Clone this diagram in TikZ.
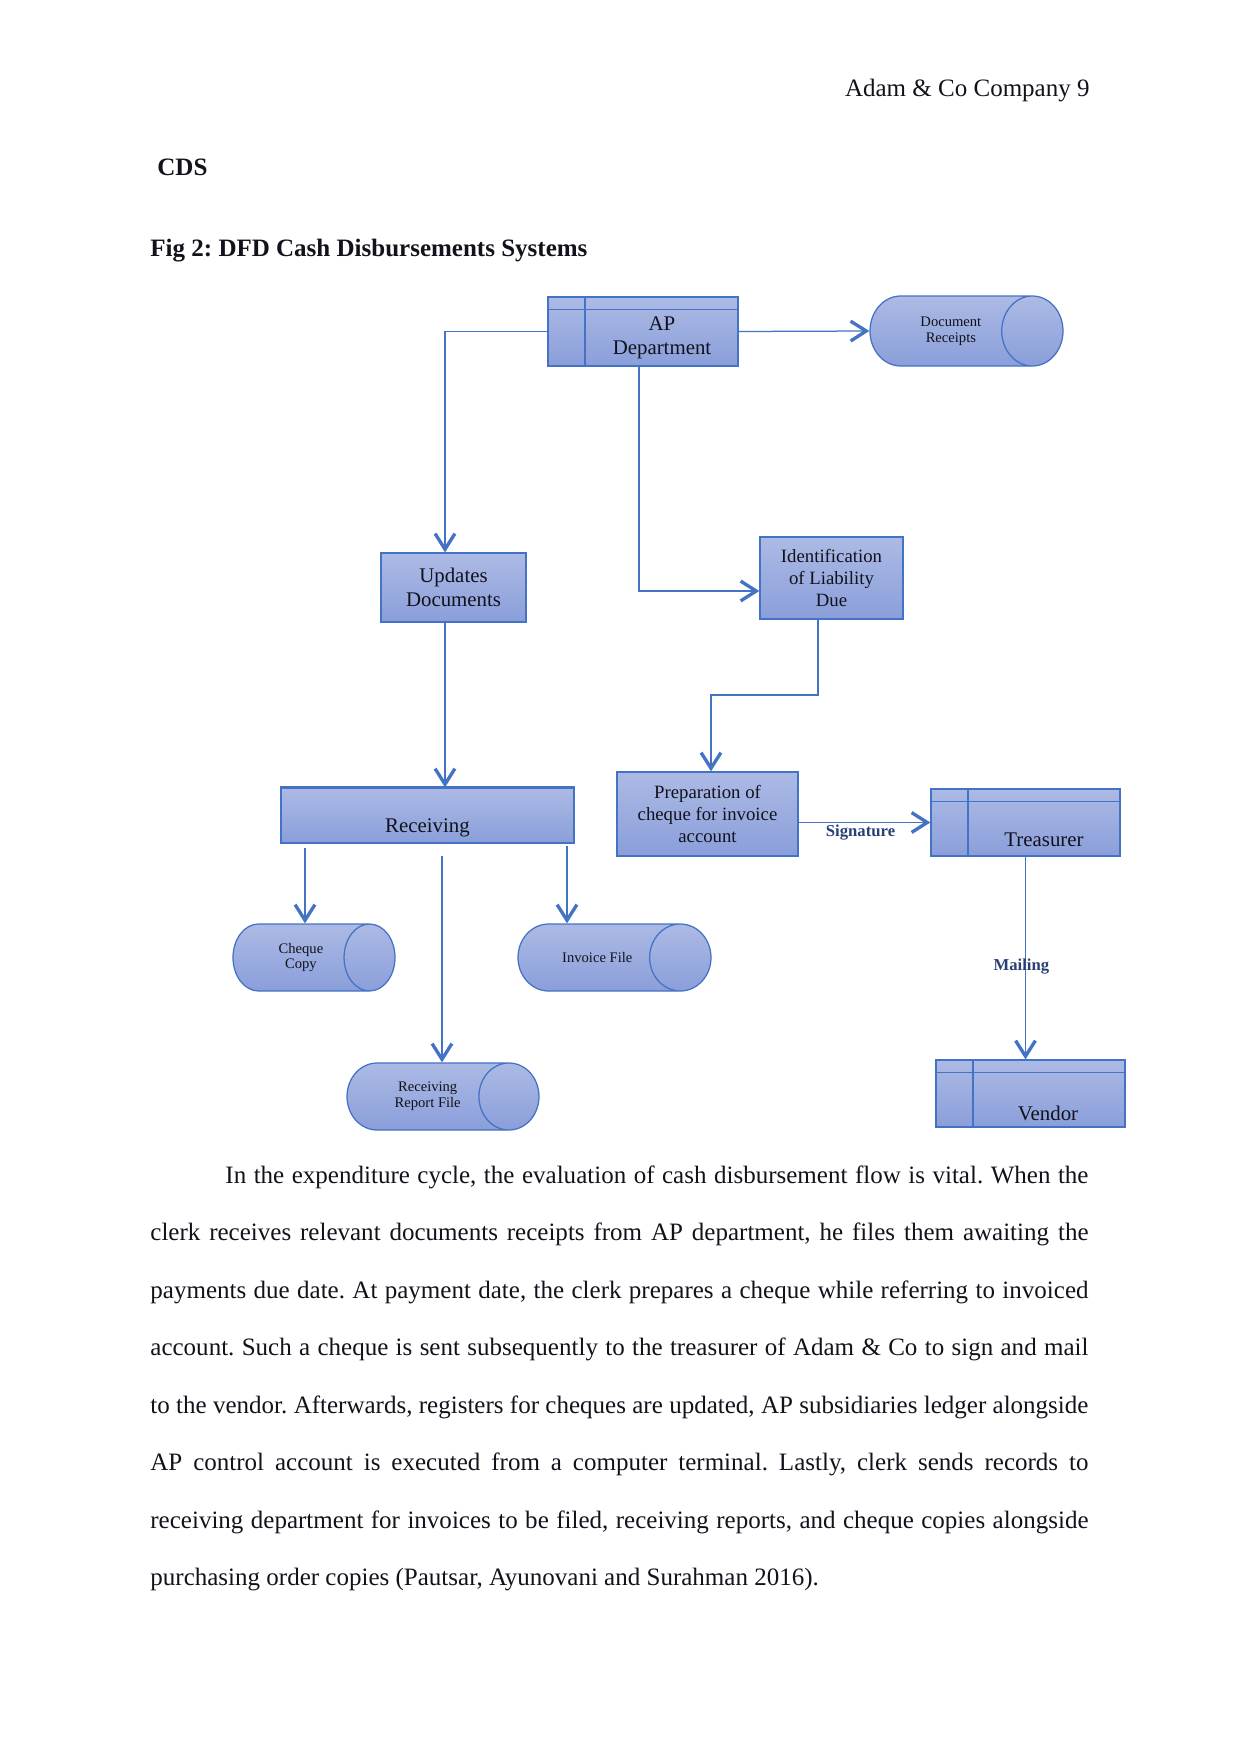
\documentclass[tikz,border=0pt]{standalone}
\usepackage{fontspec}
\setmainfont{Liberation Serif}
\usetikzlibrary{arrows.meta, positioning, shapes.geometric, calc}
\definecolor{boxblue}{RGB}{68, 114, 196}
\definecolor{filltop}{RGB}{172, 186, 228}
\definecolor{fillbot}{RGB}{138, 158, 218}
\definecolor{lbl_col}{RGB}{40, 64, 118}
\definecolor{txt_col}{RGB}{18, 18, 28}
\frenchspacing

\begin{document}
\begin{tikzpicture}[x=0.4797pt, y=-0.4797pt,
    every node/.style={align=center, inner sep=0pt, text=txt_col},
    sized/.style 2 args={minimum width=#1*0.4797pt, minimum height=#2*0.4797pt},
    procbox/.style={draw=boxblue, line width=0.6pt, top color=filltop,
        bottom color=fillbot, font=\fontsize{10}{11.5}\selectfont},
    smallbox/.style={procbox, font=\fontsize{9}{10.7}\selectfont},
    entity/.style={procbox, path picture={
        \draw[draw=boxblue, line width=0.6pt]
          ([xshift=17.7pt]path picture bounding box.north west)
            -- ([xshift=17.7pt]path picture bounding box.south west)
          ([yshift=-6.0pt]path picture bounding box.north west)
            -- ([yshift=-6.0pt]path picture bounding box.north east);}},
    boxtext/.style={font=\fontsize{10}{11.5}\selectfont},
    store/.style={cylinder, draw=boxblue, line width=0.6pt, top color=filltop,
        bottom color=fillbot, aspect=2.1, anchor=shape center,
        font=\fontsize{7}{7.6}\selectfont},
    % cylinder: first = length along axis, second = diameter
    storesize/.style 2 args={minimum height=#1*0.4797pt, minimum width=#2*0.4797pt},
    flow/.style={draw=boxblue, line width=0.6pt,
        -{Straight Barb[length=7.5pt, width=9.5pt, line width=1.6pt]}},
    lbl/.style={font=\bfseries\fontsize{8}{9}\selectfont, text=lbl_col}]
  \useasboundingbox (0,0) rectangle (1241,1754);

  % page header and titles
  \node[anchor=base east, font=\fontsize{12}{14}\selectfont] (hdr)
    at (1090,97) {Adam \& Co Company 9};
  \node[anchor=base west, font=\bfseries\fontsize{12}{14}\selectfont] (cds)
    at (157,175) {CDS};
  \node[anchor=base west, font=\bfseries\fontsize{12}{14}\selectfont] (fig)
    at (150,256) {Fig 2: DFD Cash Disbursements Systems};

  % entities and processes
  \node[entity, sized={190}{69}] (ap) at (643,331.5) {};
  \node[boxtext] (ap-t) at ($(ap)+(19,6.5)$) {AP\\Department};

  \node[store, storesize={193}{70}, aspect=2.15] (docs) at (966.5,331)
    {Document\\Receipts};

  \node[procbox, sized={145}{69}] (upd) at (453.5,587.5) {Updates\\Documents};

  \node[smallbox, sized={143}{82}] (ident) at (831.5,578)
    {Identification\\of Liability\\Due};

  \node[procbox, sized={293}{55}] (recv) at (427.5,815.5) {};
  \node[boxtext] (recv-t) at ($(recv)+(0,12.5)$) {Receiving};

  \node[smallbox, sized={181}{84}] (prep) at (707.5,814)
    {Preparation of\\cheque for invoice\\account};

  \node[entity, sized={189}{67}] (treas) at (1025.5,822.5) {};
  \node[boxtext] (treas-t) at ($(treas)+(18.5,17.5)$) {Treasurer};

  \node[entity, sized={189}{67}] (vendor) at (1030.5,1093.5) {};
  \node[boxtext] (vendor-t) at ($(vendor)+(17.5,19.5)$) {Vendor};

  % data stores
  \node[store, storesize={162}{67}, aspect=1.75] (cheq) at (314,957.5)
    {Cheque\\Copy};
  \node[store, storesize={193}{67}, inner ysep=3.8pt, aspect=2.35] (inv)
    at (614.5,957.5) {\hspace*{8pt}Invoice File};
  \node[store, storesize={192}{67}] (rrf) at (443,1096.5)
    {Receiving\\Report File};

  % bends and leg starts
  \coordinate (colA) at (445,0);
  \coordinate (bendA) at (639,591);
  \coordinate (dropB) at (818,0);
  \coordinate (bendB) at (711,695);
  \coordinate (legC) at (305,848);
  \coordinate (legR) at (442,856);
  \coordinate (legI) at (567,846);

  \draw[draw=boxblue, line width=1.2pt] (recv.north west) -- (recv.north east);

  % flows
  \draw[flow] (ap.east) -- (docs.west);
  \draw[flow] (ap.west) -| (colA |- upd.north);
  \draw[flow] (ap.south -| bendA) |- (ident.west |- bendA);
  \draw[flow] (ident.south -| dropB) |- (bendB) -- (bendB |- prep.north);
  \draw[flow] (upd.south -| colA) -- (colA |- recv.north);
  \draw[flow] (legC) -- (legC |- cheq.north);
  \draw[flow] (legR) -- (legR |- rrf.north);
  \draw[flow] (legI) -- (legI |- inv.north);
  \draw[flow] (prep.east |- treas.west) --
    node[lbl, below=1pt, pos=0.47] (sig) {Signature} (treas.west);
  \draw[flow] (treas.south) --
    node[lbl, pos=0.54, xshift=-2pt] (mail) {Mailing} (treas.south |- vendor.north);

  % body paragraph
  \node[anchor=base west, text width=450pt, align=justify,
        font=\fontsize{12}{27.6}\selectfont] (body) at (150,1183)
    {\hspace*{36pt}In the expenditure cycle, the evaluation of cash disbursement flow is vital. When the\linebreak
     clerk receives relevant documents receipts from AP department, he files them awaiting the\linebreak
     payments due date. At payment date, the clerk prepares a cheque while referring to invoiced\linebreak
     account. Such a cheque is sent subsequently to the treasurer of Adam \& Co to sign and mail\linebreak
     to the vendor. Afterwards, registers for cheques are updated, AP subsidiaries ledger alongside\linebreak
     AP control account is executed from a computer terminal. Lastly, clerk sends records to\linebreak
     receiving department for invoices to be filed, receiving reports, and cheque copies alongside\linebreak
     purchasing order copies (Pautsar, Ayunovani and Surahman 2016).};
\end{tikzpicture}
\end{document}
